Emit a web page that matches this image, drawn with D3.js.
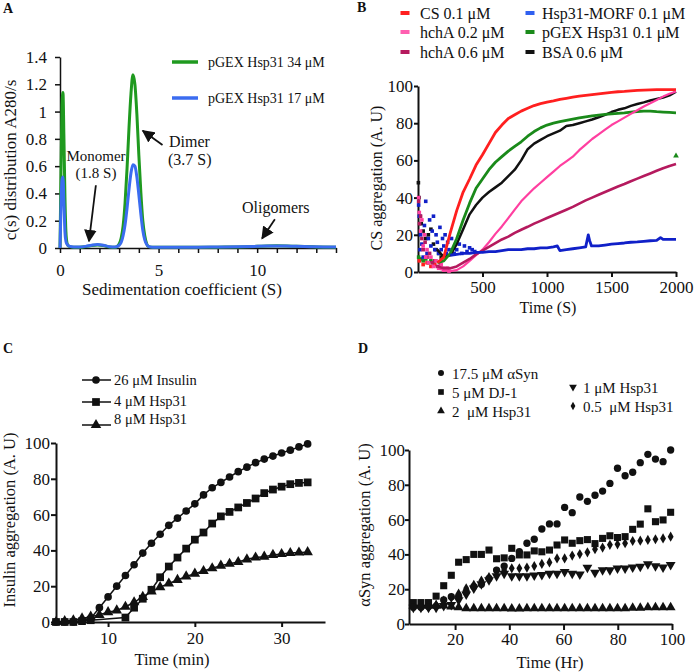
<!DOCTYPE html>
<html><head><meta charset="utf-8">
<script src="https://cdn.jsdelivr.net/npm/d3@7"></script>
<style>
body{margin:0;background:#fff}
svg{display:block}
text{font-family:"Liberation Serif","Times New Roman",serif;fill:#111}
</style></head>
<body><svg id="c" width="700" height="672"></svg>
<script>
// ---------------- Panel A data ----------------
const sedS = [0,0.05,0.1,0.15,0.2,0.25,0.3,0.35,0.4,0.5,0.7,1.0,1.3,1.6,1.9,2.2,2.5,2.8,3.0,3.1,3.2,3.3,3.4,3.5,3.6,3.7,3.8,3.9,4.0,4.1,4.2,4.3,4.4,4.5,4.7,5,6,7,8,9,10,10.5,11,11.5,12,13,14];
const hsp31_34uM = [0,0.55,1.05,1.14,0.8,0.38,0.12,0.04,0.02,0.01,0.005,0.005,0.01,0.018,0.022,0.018,0.008,0.005,0.03,0.07,0.16,0.33,0.58,0.88,1.13,1.27,1.2,0.98,0.68,0.41,0.2,0.09,0.03,0.01,0.005,0.005,0.005,0.005,0.006,0.008,0.012,0.015,0.016,0.015,0.012,0.008,0.006];
const hsp31_17uM = [0,0.3,0.5,0.52,0.33,0.12,0.05,0.03,0.02,0.012,0.008,0.008,0.012,0.02,0.025,0.02,0.01,0.008,0.02,0.04,0.09,0.17,0.29,0.43,0.55,0.61,0.6,0.52,0.39,0.25,0.13,0.06,0.025,0.01,0.006,0.006,0.006,0.006,0.007,0.009,0.012,0.014,0.015,0.014,0.012,0.009,0.007];
const yTicksA = [0,0.2,0.4,0.6,0.8,1,1.2,1.4];
const xTicksA = [0,1,2,3,4,5,6,7,8,9,10,11,12,13,14];
const xLabelsA = [0,5,10];

// ---------------- Panel B data ----------------
const timeB = [150,200,250,300,350,400,450,500,550,600,650,700,750,800,850,900,950,1000,1050,1100,1150,1200,1250,1300,1350,1400,1450,1500,1550,1600,1650,1700,1750,1800,1850,1900,1950,2000];
const cs01 = [5,8,21,33,43,50,57.5,63,69,75,79,82.5,84.5,86.5,88,89.5,90.5,91.3,92,92.8,93.4,94,94.5,95,95.4,95.8,96.2,96.6,96.9,97.1,97.4,97.6,97.8,97.9,98,98,98,98];
const pgex01 = [5,6,10,18,28,37,45,50,55,59,62,65,67.5,70,73,75.5,77.5,79,80,80.8,81.5,82.2,82.8,83.4,83.9,84.3,84.7,85,85.3,85.6,86,86.3,86.5,86.5,86.2,86,85.8,85.6];
const bsa06 = [12,8,9,15,23,31,36,40,43,45.5,48,51.5,55,60,66,69,71,73,74.5,76,78.5,79,80,81,82,83.2,84.5,86,87.2,88,89.3,90.3,91.2,92.2,93,93.8,95,97];
const hchA02 = [2,1,0.5,1,3,6,9,12,16,20.5,24.5,29,33.5,38,41.5,45,48,51,54,57,59.5,62,65.5,68.5,71.5,74,76.5,79,81,83,85,87,89,90.7,92.5,94.3,95.8,97];
const hchA06 = [3,2,2,3,5,7,9.5,11.5,13.5,15.5,17.5,19,21,22.7,24.3,26,27.5,29,30.5,32,33.5,35,36.8,38.5,40,41.5,43,44.5,46,47.3,48.8,50.2,51.6,53,54.4,55.8,57,58];
const morfT = [250,300,350,400,450,500,550,600,650,700,750,800,850,900,950,1000,1050,1080,1100,1150,1200,1250,1300,1320,1330,1345,1400,1450,1500,1550,1600,1650,1700,1750,1800,1850,1880,1900,1950,2000];
const morf01 = [9,9.5,10,10,10.5,10.5,11,11,11.5,12,12,12,12.5,12.5,13,13,13.5,14,11.5,12,12.5,13,13.5,20,17,14,14,14.5,15,15.3,15.6,16,16.2,16.5,16.8,17,18.5,17.5,17.5,17.5];
// early noisy readings (t < 450 s)
const morfNoiseT = [5,10,15,20,30,40,50,60,70,80,90,100,110,120,130,140,150,160,170,180,190,200,210,220,230,240,260,280,300,320,340,360,380,400,420,440];
const morfNoiseV = [36,30,12,20,15,8,25,38,10,18,28,14,22,30,12,20,16,10,24,12,18,14,20,10,16,12,18,10,12,15,10,14,11,13,12,11];
const hchA02NoiseT = [5,10,20,30,40,50,60,70,80,100,120,140,160,180,200,220,240];
const hchA02NoiseV = [40,32,22,28,14,20,8,12,5,8,3,6,2,4,1,2,0.5];
const hchA06NoiseT = [5,12,20,30,40,55,70,90,110,130,150,175,200,230];
const hchA06NoiseV = [38,26,30,18,12,16,8,10,5,6,3,4,2,2];
const bsaNoiseT = [3,8,15,25,40,60,80,100,120,140,160,180];
const bsaNoiseV = [48,40,30,26,22,18,20,23,15,12,10,8];
const pgexNoiseT = [5,20,40,60,80,100,120];
const pgexNoiseV = [8,7,6,7,5,6,5];
const csNoiseT = [10,40,70,100,130];
const csNoiseV = [6,4,5,3,4];
const pgexOutlier = [2000, 62.5];
const yTicksB = [0,20,40,60,80,100];
const xTicksB = [500,1000,1500,2000];

// ---------------- Panel C data ----------------
const timeC = [4,5,6,7,8,9,10,11,12,13,14,15,16,17,18,19,20,21,22,23,24,25,26,27,28,29,30,31,32,33];
const insulin26 = [0,0,0,0.5,2,8,14,20,26,32,38.5,44,49,54,58,62,66,71,75,78,81,84,86.5,89,91,92.7,94.4,96,97.8,99.5];
const hsp31_4 = [0,0,0,0.5,1,null,null,null,2.5,8,13,18,25,31,36,41,46,50,55,59,61.5,64,66.5,69,72,74,75.6,77,77.7,78];
const hsp31_8 = [0,0.5,1,2,3,4,5.5,6.5,8.5,11,14,17,19.5,21.5,23.5,25.5,27,28.5,30,31.5,32.5,33.5,35,36,36.5,37.5,38,38.5,38.8,39];
const yTicksC = [0,20,40,60,80,100];
const xTicksC = [10,20,30];

// ---------------- Panel D data ----------------
const timeD = [4.6,7.4,10.2,13.0,15.8,18.6,21.3,24.1,26.9,29.7,32.5,35.3,38.1,40.9,43.7,46.5,49.2,52.0,54.8,57.6,60.4,63.2,66.0,68.8,71.6,74.4,77.1,79.9,82.7,85.5,88.3,91.1,93.9,96.7,99.5];
const aSyn175 = [9.6,9.6,10,10.3,13.8,15.7,16,18.6,21.5,22.8,26.2,31,33.3,37.7,41.6,46.4,48.7,54.6,57.5,57.5,67,64,73,70.5,74,76.4,80.8,89.5,85.2,87.2,92.7,97.5,94.8,93.3,100];
const dj1_5 = [12.3,12.3,12.3,16,22,28,35.5,37,40,40,42.5,37.5,38,43.5,39.7,39.7,42,41.5,42.5,45.4,48.3,46.4,47.9,48.5,46.2,49.2,50.7,49.7,50.2,54.4,57.4,66.2,58.8,59.8,64.2];
const hsp31_2 = [10.5,10.5,10.5,10.5,10.5,10,9.5,9,9,9,9,9,9,8.8,8.8,9,9,9,9,9,9,9,9,9,9,9,9,9,9,9.2,9.3,9.5,9.5,9.5,9.5];
const hsp31_1 = [9.5,9.5,9.5,9.5,10.5,11,13.8,17,20.5,23,25.3,27.6,29,27.6,27.6,27.6,28,28.2,29,29,30,29,28.5,32.4,29.5,31,31,32,32,32.6,33,34.5,33.3,32.6,34];
const hsp31_05 = [10,10,10,11,13.5,15,17.5,20.5,22.5,25,27,30,31,32,32,32.4,33.3,34.5,35.4,37.7,37.7,39.3,40.2,41.2,43,43.9,45.5,45.8,46.4,47.7,47.9,48.3,48.7,49.2,50.2];
const yTicksD = [0,20,40,60,80,100];
const xTicksD = [20,40,60,80,100];

// =====================================================
const svg = d3.select("#c");
const defs = svg.append("defs");
defs.append("marker").attr("id","arr").attr("viewBox","0 0 10 10").attr("refX",9).attr("refY",5)
  .attr("markerWidth",7).attr("markerHeight",7).attr("orient","auto-start-reverse")
  .append("path").attr("d","M0,0L10,5L0,10z").attr("fill","#111");

function styleAxis(g, sw, fs){
  g.select(".domain").attr("stroke","#111").attr("stroke-width",sw);
  g.selectAll(".tick line").attr("stroke","#111").attr("stroke-width",sw);
  g.selectAll(".tick text").attr("font-size",fs).attr("fill","#111")
   .attr("font-family","'Liberation Serif','Times New Roman',serif");
}
function panelLabel(txt,x,y){
  svg.append("text").attr("x",x).attr("y",y).attr("font-size",14).attr("font-weight","bold").text(txt);
}
function axTitleX(txt,x,y,fs){
  svg.append("text").attr("x",x).attr("y",y).attr("text-anchor","middle").attr("font-size",fs).text(txt);
}
function axTitleY(txt,x,y,fs){
  svg.append("text").attr("transform",`translate(${x},${y}) rotate(-90)`).attr("text-anchor","middle").attr("font-size",fs).text(txt);
}

// ---------------- Panel A ----------------
{
  const x = d3.scaleLinear().domain([0,14]).range([60,336]);
  const y = d3.scaleLinear().domain([0,1.4]).range([248,57]);
  const line = d3.line().x(d=>x(d[0])).y(d=>y(d[1])).curve(d3.curveMonotoneX);
  const gx = svg.append("g").attr("transform","translate(0,248)")
    .call(d3.axisBottom(x).tickValues(xTicksA).tickFormat(d=>xLabelsA.includes(d)?d:"").tickSize(5).tickSizeOuter(0).tickPadding(11));
  styleAxis(gx,1.5,17);
  const gy = svg.append("g").attr("transform","translate(60,0)")
    .call(d3.axisLeft(y).tickValues(yTicksA).tickFormat(d=>String(d)).tickSize(5).tickSizeOuter(0).tickPadding(8));
  styleAxis(gy,1.5,17);
  svg.append("path").datum(sedS.map((s,i)=>[s,hsp31_34uM[i]])).attr("d",line)
    .attr("fill","none").attr("stroke","#1f9a1f").attr("stroke-width",3);
  svg.append("path").datum(sedS.map((s,i)=>[s,hsp31_17uM[i]])).attr("d",line)
    .attr("fill","none").attr("stroke","#3b6cf0").attr("stroke-width",3);
  // legend
  [["pGEX Hsp31 34 μM","#1f9a1f",62],["pGEX Hsp31 17 μM","#3b6cf0",98]].forEach(([t,c,yy])=>{
    svg.append("line").attr("x1",172).attr("x2",198).attr("y1",yy).attr("y2",yy).attr("stroke",c).attr("stroke-width",3.5);
    svg.append("text").attr("x",208).attr("y",yy+5).attr("font-size",14).text(t);
  });
  // annotations
  svg.append("text").attr("x",169).attr("y",147).attr("font-size",16).text("Dimer");
  svg.append("text").attr("x",168).attr("y",165).attr("font-size",16).text("(3.7 S)");
  svg.append("line").attr("x1",x(5.2)).attr("y1",y(0.755)).attr("x2",x(4.2)).attr("y2",y(0.86))
    .attr("stroke","#111").attr("stroke-width",1.8).attr("marker-end","url(#arr)");
  svg.append("text").attr("x",96).attr("y",161).attr("text-anchor","middle").attr("font-size",15).text("Monomer");
  svg.append("text").attr("x",96).attr("y",178).attr("text-anchor","middle").attr("font-size",15).text("(1.8 S)");
  svg.append("line").attr("x1",x(1.82)).attr("y1",y(0.46)).attr("x2",x(1.47)).attr("y2",y(0.05))
    .attr("stroke","#111").attr("stroke-width",1.8).attr("marker-end","url(#arr)");
  svg.append("text").attr("x",242).attr("y",213).attr("font-size",16)
    .attr("font-family","'Liberation Sans',Arial,sans-serif").text("Oligomers");
  svg.append("line").attr("x1",x(10.9)).attr("y1",y(0.21)).attr("x2",x(10.25)).attr("y2",y(0.07))
    .attr("stroke","#111").attr("stroke-width",1.8).attr("marker-end","url(#arr)");
  axTitleX("Sedimentation coefficient (S)",182,295,17);
  axTitleY("c(s) distribution A280/s",16,160,17);
  panelLabel("A",3,13);
}

// ---------------- Panel B ----------------
{
  const x = d3.scaleLinear().domain([0,2000]).range([418,676]);
  const y = d3.scaleLinear().domain([0,100]).range([272,86]);
  const line = d3.line().x(d=>x(d[0])).y(d=>y(d[1]));
  const gx = svg.append("g").attr("transform","translate(0,272)")
    .call(d3.axisBottom(x).tickValues(xTicksB).tickFormat(d3.format("d")).tickSize(5).tickSizeOuter(0).tickPadding(4));
  styleAxis(gx,2,17);
  const gy = svg.append("g").attr("transform","translate(418,0)")
    .call(d3.axisLeft(y).tickValues(yTicksB).tickSize(4).tickSizeOuter(0).tickPadding(1));
  styleAxis(gy,2,17);
  const cols = {cs:"#ff1f1f", h02:"#ff3fa0", h06:"#b51a5e", morf:"#1020c8", pgex:"#1a8a1a", bsa:"#111"};
  function noise(T,V,c){
    svg.append("g").selectAll("rect").data(T.map((t,i)=>[t,V[i]])).join("rect")
      .attr("x",d=>x(d[0])-1.8).attr("y",d=>y(d[1])-1.8).attr("width",3.6).attr("height",3.6).attr("fill",c);
  }
  function series(T,V,c,w){
    svg.append("path").datum(T.map((t,i)=>[t,V[i]])).attr("d",line)
      .attr("fill","none").attr("stroke",c).attr("stroke-width",w).attr("stroke-linejoin","round");
  }
  noise(bsaNoiseT,bsaNoiseV,cols.bsa);
  noise(pgexNoiseT,pgexNoiseV,cols.pgex);
  noise(csNoiseT,csNoiseV,cols.cs);
  noise(morfNoiseT,morfNoiseV,cols.morf);
  noise(hchA06NoiseT,hchA06NoiseV,cols.h06);
  noise(hchA02NoiseT,hchA02NoiseV,cols.h02);
  series(timeB,bsa06,cols.bsa,2.5);
  series(timeB,pgex01,cols.pgex,2.8);
  series(timeB,cs01,cols.cs,2.8);
  series(timeB,hchA02,cols.h02,2.2);
  series(timeB,hchA06,cols.h06,2.6);
  series(morfT,morf01,cols.morf,2.8);
  svg.append("path").attr("d",d3.symbol(d3.symbolTriangle,14)())
    .attr("transform",`translate(${x(pgexOutlier[0])},${y(pgexOutlier[1])})`).attr("fill",cols.pgex);
  // legend
  const leg = [["CS 0.1 μM",cols.cs,405,420,13],["hchA 0.2 μM","#ff5fb0",405,420,32],["hchA 0.6 μM",cols.h06,405,420,52],
               ["Hsp31-MORF 0.1 μM","#3060f0",530,542,13],["pGEX Hsp31 0.1 μM",cols.pgex,530,542,32],["BSA 0.6 μM",cols.bsa,530,542,52]];
  leg.forEach(([t,c,mx,tx,yy])=>{
    svg.append("rect").attr("x",mx-4.5).attr("y",yy-2).attr("width",9).attr("height",4).attr("fill",c);
    svg.append("text").attr("x",tx).attr("y",yy+5.5).attr("font-size",16).text(t);
  });
  axTitleX("Time (S)",548,313,16);
  axTitleY("CS aggregation (A. U)",382,178,16);
  panelLabel("B",357,12);
}

// ---------------- Panel C ----------------
{
  const x = d3.scaleLinear().domain([4,35]).range([56,325]);
  const y = d3.scaleLinear().domain([0,100]).range([622,443]);
  const gx = svg.append("g").attr("transform","translate(0,622)")
    .call(d3.axisBottom(x).tickValues(xTicksC).tickSize(5).tickSizeOuter(0).tickPadding(5));
  styleAxis(gx,2,17);
  const gy = svg.append("g").attr("transform","translate(56,0)")
    .call(d3.axisLeft(y).tickValues(yTicksC).tickSize(5).tickSizeOuter(0).tickPadding(1));
  styleAxis(gy,2,17);
  const line = d3.line().x(d=>x(d[0])).y(d=>y(d[1]));
  const sets = [
    [hsp31_8, d3.symbolTriangle, 48],
    [hsp31_4, d3.symbolSquare, 60],
    [insulin26, d3.symbolCircle, 46]
  ];
  sets.forEach(([V,sym,sz])=>{
    const pts = timeC.map((t,i)=>[t,V[i]]).filter(d=>d[1]!==null);
    svg.append("path").datum(pts).attr("d",line).attr("fill","none").attr("stroke","#111").attr("stroke-width",1.5);
    svg.append("g").selectAll("path").data(pts).join("path")
      .attr("d",d3.symbol(sym,sz)()).attr("transform",d=>`translate(${x(d[0])},${y(d[1])})`).attr("fill","#111");
  });
  const leg = [["26 μM Insulin",d3.symbolCircle,46,380,385],["4 μM Hsp31",d3.symbolSquare,60,402,406],["8 μM Hsp31",d3.symbolTriangle,48,425,424]];
  leg.forEach(([t,sym,sz,my,ty])=>{
    svg.append("line").attr("x1",82).attr("x2",111).attr("y1",my).attr("y2",my).attr("stroke","#111").attr("stroke-width",1.5);
    svg.append("path").attr("d",d3.symbol(sym,sz)()).attr("transform",`translate(96,${my})`).attr("fill","#111");
    svg.append("text").attr("x",114).attr("y",ty).attr("font-size",14.5).text(t);
  });
  axTitleX("Time (min)",172,665,16.5);
  axTitleY("Insulin aggregation (A. U)",15,520,16.5);
  panelLabel("C",3,353);
}

// ---------------- Panel D ----------------
{
  const x = d3.scaleLinear().domain([3,100]).range([409,672]);
  const y = d3.scaleLinear().domain([0,100]).range([624,450]);
  const gx = svg.append("g").attr("transform","translate(0,624)")
    .call(d3.axisBottom(x).tickValues(xTicksD).tickSize(6).tickSizeOuter(0).tickPadding(3));
  styleAxis(gx,2,17);
  const gy = svg.append("g").attr("transform","translate(409,0)")
    .call(d3.axisLeft(y).tickValues(yTicksD).tickSize(4).tickSizeOuter(0).tickPadding(0));
  styleAxis(gy,2,17);
  const sets = [
    [hsp31_2, d3.symbolTriangle, 42, 0],
    [hsp31_1, d3.symbolTriangle, 42, 180],
    [hsp31_05, d3.symbolDiamond, 30, 0],
    [dj1_5, d3.symbolSquare, 50, 0],
    [aSyn175, d3.symbolCircle, 42, 0]
  ];
  sets.forEach(([V,sym,sz,rot])=>{
    svg.append("g").selectAll("path").data(timeD.map((t,i)=>[t,V[i]])).join("path")
      .attr("d",d3.symbol(sym,sz)()).attr("transform",d=>`translate(${x(d[0])},${y(d[1])}) rotate(${rot})`).attr("fill","#111");
  });
  const leg = [["17.5 μM αSyn",d3.symbolCircle,28,0,441,452,373],["5 μM DJ-1",d3.symbolSquare,32,0,441,452,392],["2  μM Hsp31",d3.symbolTriangle,26,0,441,452,411],
               ["1 μM Hsp31",d3.symbolTriangle,26,180,573,583,387],["0.5  μM Hsp31",d3.symbolDiamond,20,0,573,583,406]];
  leg.forEach(([t,sym,sz,rot,mx,tx,yy])=>{
    svg.append("path").attr("d",d3.symbol(sym,sz)()).attr("transform",`translate(${mx},${yy}) rotate(${rot})`).attr("fill","#111");
    svg.append("text").attr("x",tx).attr("y",yy+5.5).attr("font-size",15).style("white-space","pre").text(t);
  });
  axTitleX("Time (Hr)",550,668,16.5);
  axTitleY("αSyn aggregation (A. U)",370,525,16.5);
  panelLabel("D",358,353);
}
</script></body></html>
